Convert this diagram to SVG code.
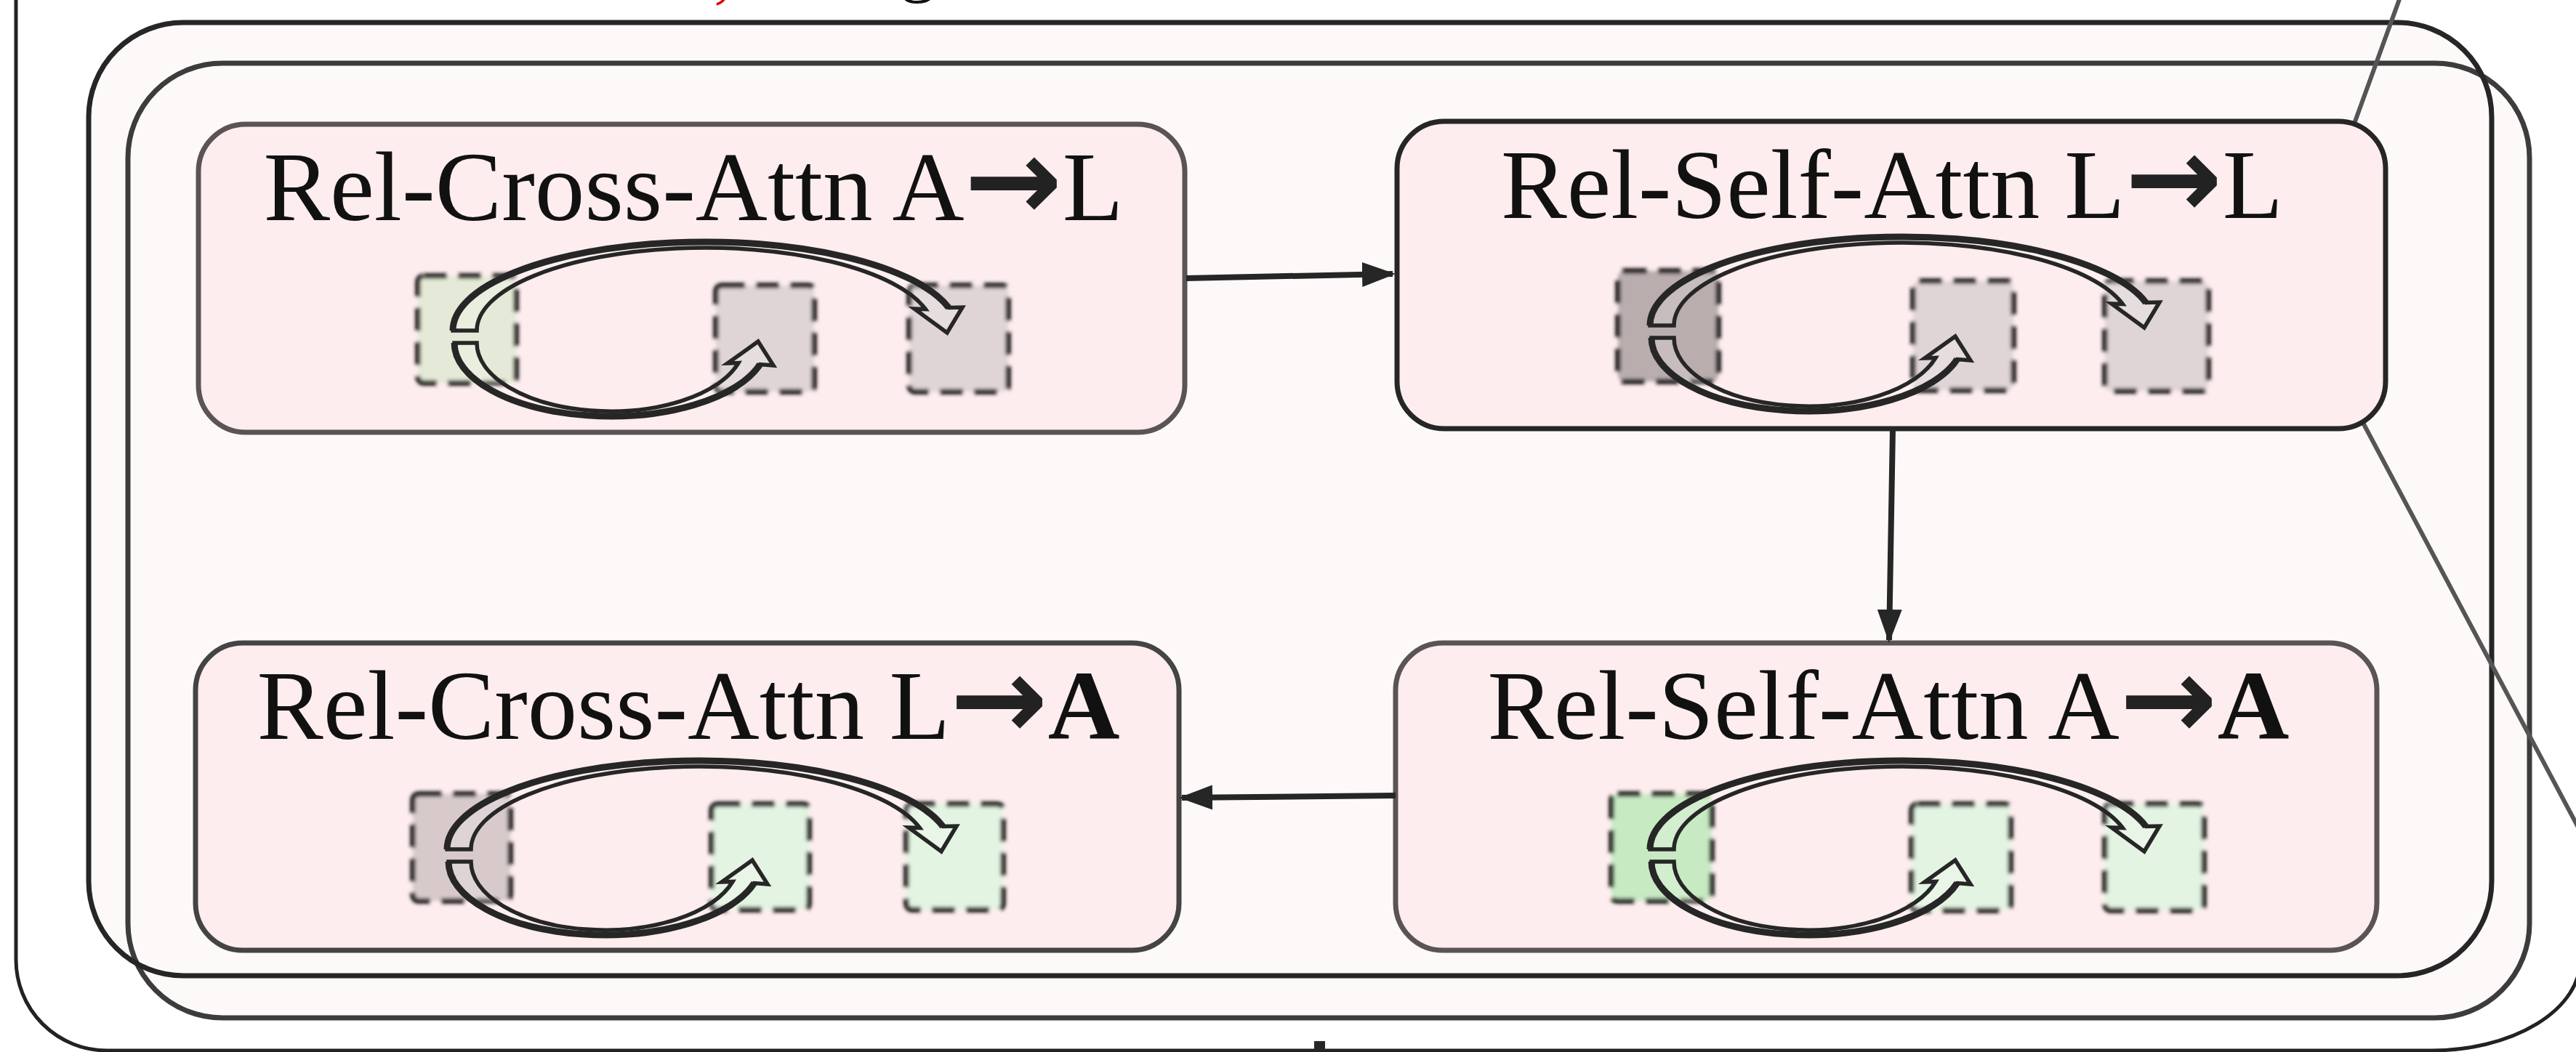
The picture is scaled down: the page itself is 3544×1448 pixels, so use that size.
<svg xmlns="http://www.w3.org/2000/svg" width="3544" height="1448" viewBox="0 0 3544 1448">
<defs>
<style>
.outer{fill:#ffffff;stroke:#222;stroke-width:5}
.ffill{fill:#fef9f9;stroke:none}
.fA{fill:none;stroke:#262626;stroke-width:7}
.fB{fill:none;stroke:#3c3c3c;stroke-width:7}
.call{stroke:#555;stroke-width:6;fill:none}
.node{fill:#feedee;stroke-width:7}
.title{font-family:"Liberation Serif","Times New Roman",serif;font-size:136px;fill:#111}
.arr{font-family:"DejaVu Sans",sans-serif;font-weight:bold;fill:#222}
.tok{stroke:#000;stroke-width:7;stroke-dasharray:32 15;filter:url(#blur)}
.loop{fill:#ffffff;fill-opacity:0.2;stroke:#262626;stroke-width:5.5;stroke-linejoin:miter}
.edge{fill:none;stroke:#262626;stroke-width:9}
.conn{stroke:#262626;stroke-width:8;fill:none;marker-end:url(#ah)}
.frag{font-family:"Liberation Serif","Times New Roman",serif;font-size:100px}
</style>
<filter id="blur" x="-20%" y="-20%" width="140%" height="140%"><feGaussianBlur stdDeviation="2.8"/></filter>
<marker id="ah" markerUnits="userSpaceOnUse" markerWidth="46" markerHeight="36" refX="42" refY="17" orient="auto">
<path d="M0,0 L46,17 L0,34 Z" fill="#262626"/>
</marker>
<g id="loops">
<path class="loop" d="M350,284 A347,122 0 0 1 1032.2,252.4 L1051,252 L1030,287 L985,254 L1000.3,254.5 A314,114 0 0 0 383,284 Z"/>
<path class="edge" d="M350,284 A347,122 0 0 1 1032.2,252.4"/>
<path class="loop" d="M352,301 A215,101 0 0 0 772.6,330.5 L791,332 L770,299 L728,329 L743,328.5 A184,94 0 0 1 383,301 Z"/>
<path class="edge" d="M352,301 A215,101 0 0 0 772.6,330.5"/>
</g>
</defs>

<path class="outer" d="M22,-20 L22,1321 A125,125 0 0 0 147,1446 L3345,1446 A205,125 0 0 0 3550,1321 L3550,-20"/>

<text class="frag" x="982" y="-8" fill="#dd0000">,</text>
<text class="frag" x="1238" y="-16" fill="#111">g</text>

<g id="frames">
<rect class="ffill" x="176" y="87" width="3304" height="1314" rx="130" ry="130"/>
<rect class="ffill" x="122" y="31" width="3306" height="1312" rx="130" ry="130"/>
<rect class="fB" x="176" y="87" width="3304" height="1314" rx="130" ry="130"/>
<rect class="fA" x="122" y="31" width="3306" height="1312" rx="130" ry="130"/>
</g>

<g id="callouts">
<line class="call" x1="3239" y1="170" x2="3305" y2="-12"/>
<line class="call" x1="3250" y1="580" x2="3562" y2="1167"/>
</g>

<g id="node-cross-AL" transform="translate(273,171)">
<rect class="node" x="0" y="0" width="1357" height="424" rx="65" ry="65" stroke="#5a5454"/>
<text class="title" x="681" y="132" text-anchor="middle" textLength="1183" lengthAdjust="spacingAndGlyphs">Rel-Cross-Attn A<tspan class="arr" font-size="160">→</tspan>L</text>
<rect class="tok" x="302" y="209" width="135" height="147" rx="8" fill="#e4ead7"/>
<rect class="tok" x="712" y="222" width="135" height="146" rx="8" fill="#e0d5d6"/>
<rect class="tok" x="978" y="222" width="136" height="146" rx="8" fill="#e0d5d6"/>
<use href="#loops"/>
</g>

<g id="node-self-LL" transform="translate(1922,167)">
<rect class="node" x="0" y="0" width="1360" height="423" rx="65" ry="65" stroke="#262626" stroke-width="8"/>
<text class="title" x="681" y="133" text-anchor="middle" textLength="1076" lengthAdjust="spacingAndGlyphs">Rel-Self-Attn L<tspan class="arr" font-size="160">→</tspan>L</text>
<rect class="tok" x="304" y="206" width="138" height="152" rx="8" fill="#baadae"/>
<rect class="tok" x="710" y="220" width="138" height="150" rx="8" fill="#e0d5d6"/>
<rect class="tok" x="974" y="220" width="142" height="151" rx="8" fill="#e0d5d6"/>
<use href="#loops" transform="translate(-2,-3)"/>
</g>

<g id="node-cross-LA" transform="translate(269,885)">
<rect class="node" x="0" y="0" width="1353" height="423" rx="65" ry="65" stroke="#444"/>
<text class="title" x="678" y="132" text-anchor="middle" textLength="1187" lengthAdjust="spacingAndGlyphs">Rel-Cross-Attn L<tspan class="arr" font-size="160">→</tspan><tspan font-weight="bold">A</tspan></text>
<rect class="tok" x="299" y="208" width="134" height="147" rx="8" fill="#d8cacb"/>
<rect class="tok" x="710" y="222" width="134" height="145" rx="8" fill="#e4f4e2"/>
<rect class="tok" x="978" y="222" width="133" height="145" rx="8" fill="#e4f4e2"/>
<use href="#loops" transform="translate(-4,0)"/>
</g>

<g id="node-self-AA" transform="translate(1920,885)">
<rect class="node" x="0" y="0" width="1350" height="423" rx="65" ry="65" stroke="#5a5454"/>
<text class="title" x="678" y="132" text-anchor="middle" textLength="1103" lengthAdjust="spacingAndGlyphs">Rel-Self-Attn A<tspan class="arr" font-size="160">→</tspan><tspan font-weight="bold">A</tspan></text>
<rect class="tok" x="297" y="208" width="138" height="147" rx="8" fill="#c8eac2"/>
<rect class="tok" x="710" y="222" width="136" height="146" rx="8" fill="#e4f4e2"/>
<rect class="tok" x="976" y="222" width="136" height="146" rx="8" fill="#e4f4e2"/>
<use href="#loops"/>
</g>

<g id="connectors">
<line class="conn" x1="1632" y1="383" x2="1916" y2="377"/>
<line class="conn" x1="2604" y1="590" x2="2599" y2="881"/>
<line class="conn" x1="1920" y1="1095" x2="1626" y2="1098"/>
</g>

<rect x="1808" y="1433" width="15" height="14" fill="#262626"/>
</svg>
